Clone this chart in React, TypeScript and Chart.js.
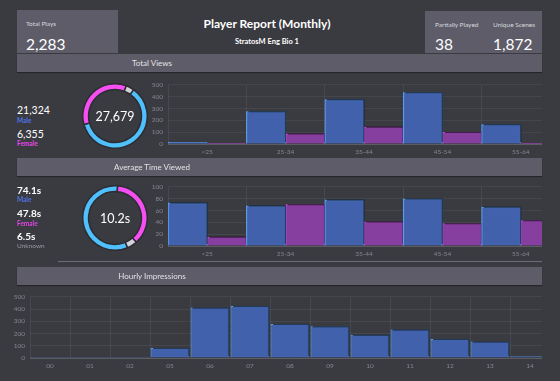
import React, { useEffect, useRef } from "react";
import { Chart, registerables } from "chart.js";

Chart.register(...registerables);

// ---- data ----
const ageCats = ["<25", "25-34", "35-44", "45-54", "55-64"];
const viewsMale = [15, 275, 375, 436, 164];
const viewsFemale = [5, 85, 143, 98, 5];
const timeMale = [73, 68, 78, 80, 66];
const timeFemale = [15, 70, 41, 38, 43];
const hours = ["00", "01", "02", "05", "06", "07", "08", "09", "10", "11", "12", "13", "14"];
const hourlyImpressions = [8, 8, 8, 81, 414, 426, 279, 259, 191, 233, 155, 135, 15];
// donut arcs (male, female, unknown)
const viewsDonut = [61, 35, 4];
const timeDonut = [74.1, 47.8, 6.5];

const FONT = "Lato, 'Open Sans', sans-serif";
const BG = "#3a3a41";
const PANEL = "#5d5c68";
const BLUE_FILL = "rgba(70,104,184,0.92)";
const BLUE_LINE = "#5aa6f2";
const PINK_FILL = "rgba(140,64,166,0.95)";
const PINK_LINE = "#d452ee";

const shadowPlugin = {
  id: "barShadow",
  beforeDatasetsDraw(chart: any) {
    const ctx = chart.ctx;
    ctx.save();
    ctx.shadowColor = "rgba(0,0,0,0.7)";
    ctx.shadowBlur = 0;
    ctx.shadowOffsetX = 1.5;
    ctx.shadowOffsetY = -1.5;
  },
  afterDatasetsDraw(chart: any) {
    chart.ctx.restore();
  },
};

type BarProps = {
  labels: string[];
  series: { data: number[]; fill: string; line: string }[];
  max: number;
  step: number;
  left: number;
  top: number;
  width: number;
  height: number;
  barPct: number;
  xAxisH: number;
};

function BarChart(p: BarProps) {
  const ref = useRef<HTMLCanvasElement>(null);
  useEffect(() => {
    const chart = new Chart(ref.current!, {
      type: "bar",
      data: {
        labels: p.labels,
        datasets: p.series.map((s) => ({
          data: s.data,
          backgroundColor: s.fill,
          borderColor: s.line,
          borderWidth: 1,
          barPercentage: p.barPct,
          categoryPercentage: 1,
        })),
      },
      options: {
        animation: false,
        responsive: false,
        maintainAspectRatio: false,
        events: [],
        layout: { padding: { top: 5, right: 0, left: 0, bottom: 0 } },
        plugins: { legend: { display: false }, tooltip: { enabled: false } },
        scales: {
          x: {
            grid: { color: "rgba(255,255,255,0.07)", drawTicks: false, offset: true },
            border: { color: "rgba(255,255,255,0.12)" },
            ticks: { color: "#85858f", font: { family: FONT, size: 6.5 }, padding: 4, maxRotation: 0, autoSkip: false },
            afterFit: (s: any) => {
              s.height = p.xAxisH;
            },
          },
          y: {
            min: 0,
            max: p.max,
            grid: { color: "rgba(255,255,255,0.06)", drawTicks: false },
            border: { display: false },
            ticks: { stepSize: p.step, color: "#85858f", font: { family: FONT, size: 6.5 }, padding: 5 },
            afterFit: (s: any) => {
              s.width = 28;
            },
          },
        },
      },
      plugins: [shadowPlugin],
    } as any);
    return () => chart.destroy();
  }, []);
  return (
    <canvas
      ref={ref}
      width={p.width}
      height={p.height}
      style={{ position: "absolute", left: p.left, top: p.top, width: p.width, height: p.height }}
    />
  );
}

function Donut(props: { data: number[]; colors: string[]; rotation: number; cx: number; cy: number; size: number }) {
  const ref = useRef<HTMLCanvasElement>(null);
  useEffect(() => {
    const chart = new Chart(ref.current!, {
      type: "doughnut",
      data: {
        labels: ["Male", "Female", "Unknown"],
        datasets: [
          {
            data: props.data,
            backgroundColor: props.colors,
            borderColor: "#2c2c33",
            borderWidth: 1.5,
          },
        ],
      },
      options: {
        animation: false,
        responsive: false,
        events: [],
        cutout: "82%",
        rotation: props.rotation,
        layout: { padding: 0 },
        plugins: { legend: { display: false }, tooltip: { enabled: false } },
      },
    } as any);
    return () => chart.destroy();
  }, []);
  return (
    <canvas
      ref={ref}
      width={props.size}
      height={props.size}
      style={{
        position: "absolute",
        left: props.cx - props.size / 2,
        top: props.cy - props.size / 2,
        width: props.size,
        height: props.size,
      }}
    />
  );
}

const abs = (l: number, t: number, extra: React.CSSProperties = {}): React.CSSProperties => ({
  position: "absolute",
  left: l,
  top: t,
  ...extra,
});

function Txt(props: { x: number; y: number; size: number; color: string; weight?: number; children: React.ReactNode; center?: boolean }) {
  return (
    <div
      style={{
        position: "absolute",
        left: props.center ? props.x - 200 : props.x,
        top: props.y - props.size * 0.7,
        width: props.center ? 400 : undefined,
        textAlign: props.center ? "center" : "left",
        fontSize: props.size,
        lineHeight: `${props.size * 1.4}px`,
        color: props.color,
        fontWeight: props.weight ?? 400,
        whiteSpace: "nowrap",
      }}
    >
      {props.children}
    </div>
  );
}

function Header(props: { top: number; title: string }) {
  return (
    <div style={abs(17, props.top, { width: 525, height: 18, background: PANEL, boxShadow: "0 1px 1px rgba(0,0,0,0.35)" })}>
      <div
        style={{
          position: "absolute",
          left: 0,
          width: 270,
          top: 0,
          height: 18,
          lineHeight: "18px",
          textAlign: "center",
          fontSize: 8,
          color: "#e2e2e6",
        }}
      >
        {props.title}
      </div>
    </div>
  );
}

export default function App() {
  const blueText = "#4f74e6";
  const pinkText = "#e247e8";
  const donutColors = ["#4fc0fb", "#f54ff2", "#d2d2d8"];
  return (
    <div
      style={{
        position: "fixed",
        left: 0,
        top: 0,
        width: 560,
        height: 381,
        background: BG,
        fontFamily: FONT,
        overflow: "hidden",
      }}
    >
      {/* top stat boxes */}
      <div style={abs(17, 10, { width: 101, height: 43, background: PANEL })} />
      <Txt x={26} y={24} size={6.5} color="#d8d8de">Total Plays</Txt>
      <Txt x={26} y={45} size={15.5} color="#ffffff">2,283</Txt>

      <Txt x={267} y={24} size={12} color="#ffffff" weight={700} center>
        Player Report (Monthly)
      </Txt>
      <Txt x={267} y={42} size={7.5} color="#ffffff" weight={700} center>
        StratosM Eng Bio 1
      </Txt>

      <div style={abs(425, 11, { width: 117, height: 42, background: PANEL })} />
      <Txt x={435} y={25} size={6.5} color="#d8d8de">Partially Played</Txt>
      <Txt x={435} y={45} size={15.5} color="#ffffff">38</Txt>
      <Txt x={493} y={25} size={6.5} color="#d8d8de">Unique Scenes</Txt>
      <Txt x={493} y={45} size={15.5} color="#ffffff">1,872</Txt>

      {/* section 1 */}
      <Header top={54} title="Total Views" />
      <Txt x={17} y={110} size={10.5} color="#ffffff">21,324</Txt>
      <Txt x={17} y={121} size={6.5} color={blueText} weight={700}>Male</Txt>
      <Txt x={17} y={134} size={10.5} color="#ffffff">6,355</Txt>
      <Txt x={17} y={144} size={6.5} color={pinkText} weight={700}>Female</Txt>
      <Donut data={viewsDonut} colors={donutColors} rotation={35} cx={115} cy={116} size={66} />
      <Txt x={115} y={117} size={12.5} color="#ffffff" center>27,679</Txt>
      <div style={abs(0, 72, { width: 542, height: 86, overflow: "hidden" })}>
        <BarChart
          labels={ageCats}
          series={[
            { data: viewsMale, fill: BLUE_FILL, line: BLUE_LINE },
            { data: viewsFemale, fill: PINK_FILL, line: PINK_LINE },
          ]}
          max={500}
          step={100}
          left={140}
          top={4}
          width={420}
          height={82}
          barPct={1}
          xAxisH={14}
        />
      </div>

      {/* section 2 */}
      <Header top={158} title="Average Time Viewed" />
      <Txt x={17} y={190} size={10} color="#ffffff" weight={700}>74.1s</Txt>
      <Txt x={17} y={200} size={6.5} color={blueText} weight={700}>Male</Txt>
      <Txt x={17} y={213} size={10} color="#ffffff" weight={700}>47.8s</Txt>
      <Txt x={17} y={224} size={6.5} color={pinkText} weight={700}>Female</Txt>
      <Txt x={17} y={236} size={10} color="#ffffff" weight={700}>6.5s</Txt>
      <Txt x={17} y={246} size={6.5} color="#9a9aa2">Unknown</Txt>
      <Donut data={timeDonut} colors={donutColors} rotation={157} cx={115} cy={218} size={66} />
      <Txt x={115} y={219} size={12.5} color="#ffffff" center>10.2s</Txt>
      <div style={abs(0, 176, { width: 542, height: 84, overflow: "hidden" })}>
        <BarChart
          labels={ageCats}
          series={[
            { data: timeMale, fill: BLUE_FILL, line: BLUE_LINE },
            { data: timeFemale, fill: PINK_FILL, line: PINK_LINE },
          ]}
          max={100}
          step={20}
          left={140}
          top={2}
          width={420}
          height={82}
          barPct={1}
          xAxisH={14}
        />
      </div>
      <div style={abs(58, 261, { width: 484, height: 1, background: "#6c6b78" })} />

      {/* section 3 */}
      <Header top={267} title="Hourly Impressions" />
      <div style={abs(0, 286, { width: 542, height: 95, overflow: "hidden" })}>
        <BarChart
          labels={hours}
          series={[{ data: hourlyImpressions, fill: BLUE_FILL, line: BLUE_LINE }]}
          max={500}
          step={100}
          left={2}
          top={2}
          width={548}
          height={86}
          barPct={0.97}
          xAxisH={16}
        />
      </div>
    </div>
  );
}
